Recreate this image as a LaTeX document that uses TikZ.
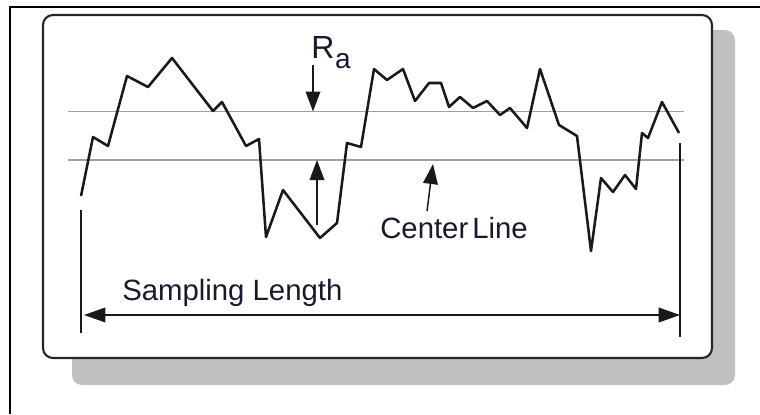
\documentclass[tikz,border=0pt]{standalone}
\usepackage{fontspec}
\setmainfont{Liberation Sans}
\usetikzlibrary{arrows.meta}
\definecolor{shadowgray}{RGB}{192,192,192}
\definecolor{reflinegray}{RGB}{160,160,160}
\definecolor{txtcol}{RGB}{25,25,45}
\begin{document}
\begin{tikzpicture}[x=0.75pt,y=-0.75pt,
  prof/.style={line width=1.9pt, line join=round, draw=black!90},
  refline/.style={line width=0.9pt, draw=reflinegray},
  dimline/.style={line width=1.1pt, draw=black!90},
  arr/.style={-{Triangle[length=15pt,width=11pt]}, line width=1.1pt, draw=black!90, fill=black!90},
  dimarr/.style={{Triangle[length=16pt,width=11pt]}-{Triangle[length=16pt,width=11pt]}, line width=1.1pt, draw=black!90, fill=black!90},
  lbl/.style={inner sep=0pt, anchor=base west, text=txtcol, font=\fontsize{22}{24}\selectfont}]
\useasboundingbox (0,0) rectangle (760,414);
% outer frame
\draw[line width=2.2pt] (760,7) -- (10,7) -- (10,414);
% shadow and panel
\fill[fill=shadowgray, rounded corners=7.5pt] (72,30) rectangle (735,385);
\draw[fill=white, draw=black!85, line width=1.6pt, rounded corners=7.5pt] (43,15) rectangle (712,358);
% reference lines
\coordinate (u0) at (68,111.5);
\coordinate (u1) at (684,111.5);
\coordinate (c0) at (68,160);
\coordinate (c1) at (684,160);
\draw[refline] (u0) -- (u1);
\draw[refline] (c0) -- (c1);
% profile
\draw[prof] (81,196) -- (93,137) -- (108,146) -- (127,76) -- (148,87) -- (172,58)
  -- (213,111) -- (222,102) -- (246,146) -- (259,139) -- (266,237) -- (283,190)
  -- (320,238) -- (337,223) -- (347,143) -- (361,147) -- (374,69) -- (387,80)
  -- (403,69) -- (415,101) -- (429,83) -- (441,83) -- (449,107) -- (460,97)
  -- (473,108) -- (487,101) -- (500,115) -- (510,108) -- (527,128) -- (540,69)
  -- (559,125) -- (577,136) -- (591,251) -- (601,178) -- (613,192) -- (625,175)
  -- (636,189) -- (642,133) -- (648,138) -- (662,102) -- (679,133);
% end lines of sampling length
\coordinate (l0) at (81,210);
\coordinate (l1) at (81,333);
\coordinate (r0) at (680,143);
\coordinate (r1) at (680,337);
\draw[dimline] (l0) -- (l1);
\draw[dimline] (r0) -- (r1);
% sampling length arrow
\coordinate (sa) at (84,315);
\coordinate (sb) at (680,315);
\draw[dimarr] (sa) -- (sb);
\node[lbl] (sl) at (122,300) {Sampling Length};
% Ra arrows
\coordinate (ra0) at (313,65);
\coordinate (ra1) at (313,111.5);
\coordinate (rb0) at (317,225);
\coordinate (rb1) at (317,160);
\draw[arr] (ra0) -- (ra1);
\draw[arr] (rb0) -- (rb1);
\node[inner sep=0pt, anchor=base west, text=txtcol] (ra) at (311,58)
  {\fontsize{24}{26}\selectfont R\kern0.5pt\raisebox{-8pt}{\fontsize{21}{22}\selectfont a}};
% center line label
\coordinate (ca0) at (427,211);
\coordinate (ca1) at (433,164);
\draw[arr] (ca0) -- (ca1);
\node[lbl] (cl) at (380,238) {Center\kern3pt Line};
\end{tikzpicture}
\end{document}
